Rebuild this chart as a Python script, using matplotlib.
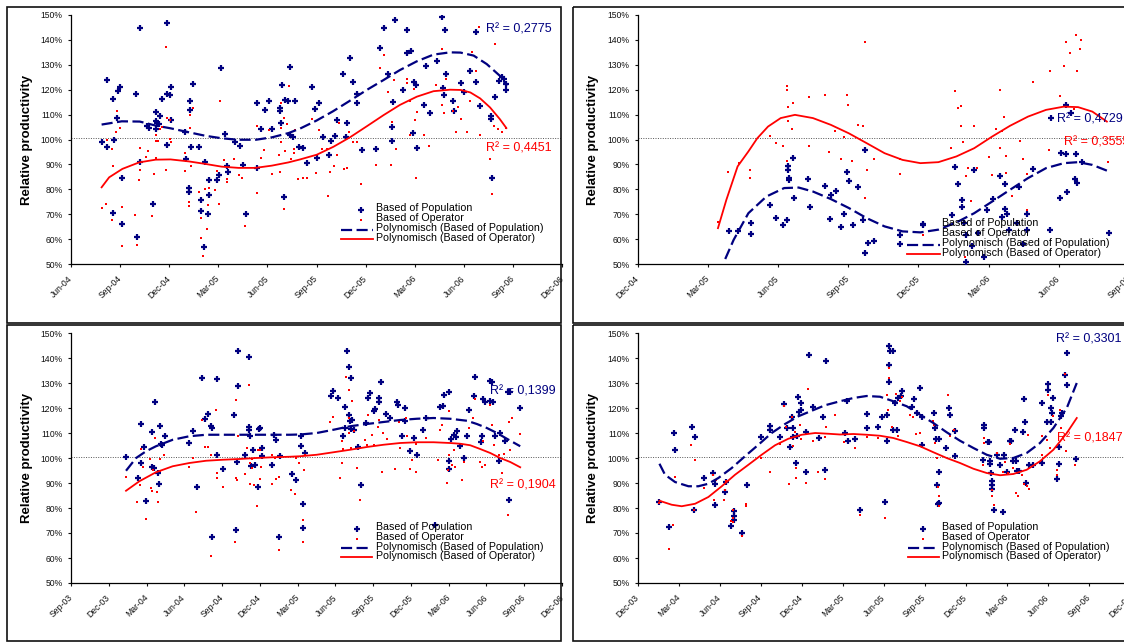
import matplotlib
matplotlib.use('Agg')
import matplotlib.pyplot as plt
from matplotlib.patches import Rectangle

plt.rcParams['font.family'] = ['Liberation Sans', 'DejaVu Sans']

W, H = 1124, 642
NAVY = '#000080'
RED = '#FF0000'

# x = months counted from Sep-03 (0 = Sep-03, 3 = Dec-03, ...), y = relative productivity in %
MONTH_TICKS = list(range(0, 40, 3))
MONTH_LABELS = ['Sep-03', 'Dec-03', 'Mar-04', 'Jun-04', 'Sep-04', 'Dec-04', 'Mar-05',
                'Jun-05', 'Sep-05', 'Dec-05', 'Mar-06', 'Jun-06', 'Sep-06', 'Dec-06']
PCT_TICKS = list(range(50, 151, 10))
LEGEND_LABELS = ['Based of Population', 'Based of Operator',
                 'Polynomisch (Based of Population)', 'Polynomisch (Based of Operator)']

# ---- top left ----
TL_POP = [(10.87, 99.0), (11.17, 96.9), (11.21, 123.8), (11.56, 116.1), (11.6, 99.9), (11.54, 70.5),
          (11.83, 108.8), (11.85, 119.3), (12.0, 120.9), (12.1, 84.4), (12.1, 65.9), (12.98, 118.3),
          (13.06, 60.7), (13.22, 144.6), (13.2, 91.0), (13.67, 105.3), (13.75, 104.8), (14.0, 74.0),
          (14.17, 111.2), (14.2, 107.3), (14.26, 106.8), (14.44, 109.3), (14.2, 104.4), (14.58, 116.1),
          (14.35, 106.2), (14.86, 146.9), (14.86, 118.3), (15.02, 117.9), (15.08, 120.9), (14.86, 97.6),
          (15.1, 107.7), (15.98, 103.1), (16.0, 92.3), (16.18, 80.4), (16.2, 79.1), (16.3, 115.5),
          (16.3, 111.8), (16.34, 96.9), (16.48, 122.3), (16.81, 96.9), (16.97, 75.8), (16.95, 71.4),
          (17.2, 91.0), (17.1, 56.7), (17.38, 70.1), (17.44, 77.7), (17.46, 83.9), (17.9, 83.9),
          (18.05, 85.9), (18.15, 128.7), (18.4, 102.3), (18.55, 89.2), (18.6, 86.8), (19.02, 99.0),
          (19.32, 97.5), (19.49, 89.9), (19.69, 70.0), (20.38, 88.4), (20.38, 114.8), (20.6, 104.4),
          (20.85, 111.8), (21.09, 115.3), (21.31, 104.4), (21.76, 112.5), (21.8, 111.6), (21.88, 121.8),
          (21.84, 106.8), (22.07, 115.9), (22.23, 115.6), (22.37, 129.1), (22.0, 76.8), (22.4, 101.8),
          (22.55, 100.9), (22.7, 115.5), (22.95, 96.9), (23.2, 96.6), (23.45, 90.7), (23.73, 120.9),
          (23.9, 112.1), (24.02, 92.4), (24.18, 114.8), (24.4, 100.9), (24.77, 93.6), (24.87, 99.4),
          (25.12, 101.3), (25.28, 107.7), (25.59, 126.4), (25.79, 101.1), (25.87, 106.5), (26.03, 132.9),
          (26.24, 123.0), (26.48, 114.7), (26.5, 118.1), (26.75, 95.9), (27.66, 96.2), (27.89, 136.6),
          (28.13, 144.6), (28.36, 126.2), (28.6, 105.2), (28.66, 115.2), (28.6, 99.5), (28.82, 148.1),
          (29.3, 119.9), (29.5, 144.0), (29.54, 134.6), (29.78, 135.7), (29.97, 123.0), (30.07, 121.9),
          (29.88, 102.5), (30.13, 96.6), (30.56, 113.7), (30.72, 129.4), (30.92, 110.8), (31.37, 131.4),
          (31.66, 149.1), (31.74, 120.5), (31.82, 118.0), (31.88, 144.0), (31.94, 126.3), (32.33, 115.3),
          (32.43, 111.6), (32.84, 122.6), (33.04, 119.1), (33.39, 127.4), (33.73, 143.2), (33.73, 123.2),
          (34.0, 113.5), (34.65, 109.3), (34.67, 108.1), (34.73, 84.4), (34.93, 117.1), (35.14, 123.4),
          (35.36, 125.0), (35.46, 124.2), (35.59, 122.3), (35.6, 119.9)]
TL_OP = [(10.87, 72.6), (11.13, 74.1), (11.17, 99.8), (11.52, 96.2), (11.58, 89.2), (11.52, 67.8),
         (11.75, 103.1), (11.83, 111.6), (11.99, 104.5), (12.09, 72.8), (12.1, 57.1), (12.94, 69.7),
         (13.06, 57.6), (13.18, 83.7), (13.2, 87.8), (13.22, 96.6), (13.58, 93.1), (13.7, 95.4),
         (13.96, 69.1), (14.1, 86.0), (14.17, 101.8), (14.17, 99.3), (14.31, 99.3), (14.17, 92.6),
         (14.46, 104.1), (14.54, 105.2), (14.8, 137.0), (14.8, 87.9), (14.88, 108.6), (15.02, 108.0),
         (15.04, 100.3), (15.1, 99.1), (15.98, 94.4), (15.98, 87.3), (16.18, 74.8), (16.18, 73.4),
         (16.28, 110.0), (16.3, 104.5), (16.32, 89.2), (16.48, 112.7), (16.81, 79.1), (16.95, 68.3),
         (16.95, 60.4), (17.07, 53.1), (17.17, 80.1), (17.33, 63.9), (17.38, 73.6), (17.42, 80.7),
         (17.77, 79.9), (17.91, 87.2), (18.07, 74.0), (18.09, 115.6), (18.37, 91.8), (18.53, 84.1),
         (18.55, 82.8), (18.98, 92.0), (19.28, 85.9), (19.45, 84.4), (19.63, 65.4), (20.34, 105.3),
         (20.34, 78.4), (20.58, 92.7), (20.8, 95.6), (21.07, 103.8), (21.29, 86.3), (21.72, 93.8),
         (21.78, 87.0), (21.82, 104.5), (21.82, 114.7), (22.35, 121.5), (21.84, 99.0), (22.0, 108.6),
         (22.0, 72.0), (22.08, 95.4), (22.18, 106.4), (22.43, 92.0), (22.65, 96.3), (22.67, 103.7),
         (22.63, 94.4), (22.9, 84.3), (23.18, 84.7), (23.45, 84.5), (23.71, 108.2), (23.98, 86.4),
         (24.16, 103.9), (24.36, 96.2), (24.63, 96.3), (24.73, 77.2), (24.83, 86.8), (25.08, 89.2),
         (25.26, 93.8), (25.36, 106.8), (25.69, 88.0), (25.85, 88.6), (25.97, 103.0), (26.2, 99.0),
         (26.46, 98.9), (26.71, 82.1), (27.66, 89.6), (27.85, 128.6), (28.11, 133.9), (28.34, 118.9),
         (28.56, 89.6), (28.64, 107.0), (28.76, 123.8), (28.87, 96.3), (29.5, 124.3), (29.5, 122.7),
         (29.74, 115.5), (29.74, 101.7), (29.94, 120.1), (30.03, 107.8), (30.07, 84.4), (30.11, 111.1),
         (30.54, 101.7), (30.86, 97.5), (31.29, 122.0), (31.66, 136.2), (31.68, 114.0), (31.76, 110.6),
         (31.92, 124.2), (32.33, 111.3), (32.55, 103.0), (32.63, 113.2), (32.84, 108.1), (33.18, 103.0),
         (33.35, 115.5), (33.49, 135.0), (33.77, 127.5), (33.92, 145.2), (34.0, 101.8), (34.61, 92.3),
         (34.73, 78.1), (34.93, 138.4), (34.87, 105.4), (35.12, 104.1), (35.32, 102.9), (35.59, 104.5)]
TL_POP_FIT = [(10.87, 106.0), (12.1, 107.3), (13.2, 107.2), (14.17, 105.6), (15.08, 104.5), (16.2, 102.9),
              (17.2, 101.5), (18.2, 100.5), (19.2, 99.9), (20.3, 99.9), (21.3, 100.9), (22.3, 102.6),
              (23.0, 104.4), (24.0, 107.6), (25.0, 111.3), (26.05, 115.6), (27.07, 119.9), (28.1, 123.9),
              (29.1, 127.9), (30.13, 131.4), (31.15, 134.1), (32.16, 135.0), (32.8, 134.9), (33.6, 133.7),
              (34.4, 130.3), (35.2, 125.6), (35.63, 121.6)]
TL_OP_FIT = [(10.87, 80.8), (11.33, 84.8), (12.14, 88.2), (13.16, 90.8), (14.17, 91.9), (15.08, 92.0),
             (16.2, 91.2), (17.2, 90.2), (18.2, 89.1), (19.24, 88.6), (20.26, 88.6), (21.27, 89.5),
             (22.28, 90.8), (23.0, 92.0), (24.02, 93.9), (25.04, 97.1), (26.05, 100.9), (27.07, 105.3),
             (28.1, 109.8), (29.1, 113.9), (30.13, 117.2), (31.15, 119.4), (32.16, 120.0), (32.8, 119.9),
             (33.4, 118.9), (34.0, 116.5), (34.6, 112.9), (35.2, 108.2), (35.6, 104.6)]
TL_R2 = ('0,2775', '0,4451')

# ---- top right ----
TR_POP = [(18.89, 63.4), (19.3, 63.1), (19.83, 66.5), (19.83, 62.0), (20.65, 73.7), (20.9, 68.3),
          (21.22, 65.5), (21.4, 67.8), (21.42, 89.2), (21.42, 87.9), (21.45, 84.4), (21.47, 83.7),
          (21.62, 92.6), (21.67, 76.5), (22.29, 84.1), (22.35, 73.0), (22.99, 81.3), (23.22, 68.1),
          (23.25, 77.8), (23.46, 79.2), (23.69, 64.9), (23.8, 70.1), (23.96, 86.8), (24.04, 83.2),
          (24.21, 65.8), (24.43, 81.1), (24.64, 67.8), (24.71, 95.9), (24.71, 54.3), (24.83, 58.4),
          (25.1, 59.4), (26.22, 61.5), (26.22, 58.0), (27.18, 65.9), (28.43, 69.7), (28.58, 88.8),
          (28.69, 82.1), (28.84, 75.7), (28.84, 73.0), (28.95, 66.5), (29.04, 61.5), (29.04, 51.0),
          (29.27, 57.1), (29.38, 87.9), (29.53, 62.5), (29.8, 52.7), (29.93, 71.5), (30.2, 76.0),
          (30.48, 85.5), (30.57, 69.0), (30.68, 82.0), (30.68, 72.0), (30.8, 70.0), (30.88, 63.5),
          (31.22, 66.5), (31.29, 81.0), (31.45, 58.0), (31.65, 70.0), (31.65, 63.5), (31.9, 88.0),
          (32.63, 63.5), (32.67, 108.5), (33.03, 76.5), (33.09, 94.5), (33.29, 94.0), (33.36, 79.0),
          (33.29, 114.0), (33.52, 110.5), (33.74, 94.0), (33.7, 84.0), (33.79, 82.5), (33.97, 91.0),
          (35.12, 62.5)]
TR_OP = [(18.42, 66.7), (18.87, 86.8), (19.33, 90.4), (19.81, 87.8), (19.81, 84.7), (20.65, 101.3),
         (20.89, 98.4), (21.21, 97.4), (21.38, 121.5), (21.38, 120.0), (21.41, 113.1), (21.44, 107.6),
         (21.38, 91.5), (21.65, 114.6), (21.61, 104.1), (22.3, 117.1), (22.33, 97.4), (22.99, 117.7),
         (23.18, 95.1), (23.44, 103.4), (23.68, 92.2), (23.82, 100.9), (23.94, 117.9), (24.0, 113.9),
         (24.17, 91.4), (24.4, 106.0), (24.63, 105.6), (24.71, 139.3), (24.71, 76.4), (24.8, 87.9),
         (25.08, 92.2), (26.19, 92.2), (26.21, 86.3), (28.39, 96.7), (28.56, 119.6), (28.67, 112.8),
         (28.82, 113.3), (28.83, 105.6), (28.9, 99.1), (29.03, 85.3), (29.1, 88.4), (29.0, 53.0),
         (29.24, 75.2), (29.36, 105.3), (29.49, 88.6), (30.03, 92.8), (30.15, 85.7), (30.3, 104.1),
         (30.48, 119.7), (30.55, 103.5), (30.48, 96.7), (30.65, 108.9), (30.72, 93.5), (30.75, 86.5),
         (31.0, 77.5), (31.34, 99.5), (31.45, 92.2), (31.65, 86.0), (31.62, 71.6), (31.88, 123.2),
         (32.58, 95.9), (32.62, 127.5), (33.06, 117.5), (33.23, 129.7), (33.3, 139.3), (33.47, 134.7),
         (33.66, 112.1), (33.75, 142.1), (33.76, 127.4), (33.9, 136.3), (33.93, 140.1), (35.11, 91.0)]
TR_POP_FIT = [(18.74, 52.0), (19.1, 59.7), (19.73, 70.4), (20.5, 77.1), (21.26, 80.5), (21.88, 80.7),
              (22.49, 79.1), (23.25, 76.1), (24.02, 72.5), (24.79, 68.4), (25.55, 65.1), (26.32, 63.1),
              (27.08, 62.7), (27.85, 63.8), (28.62, 66.7), (29.38, 70.4), (30.15, 75.1), (30.91, 79.8),
              (31.68, 84.5), (32.45, 88.5), (33.21, 90.5), (33.82, 90.9), (34.43, 89.8), (35.05, 87.5)]
TR_OP_FIT = [(18.43, 64.4), (18.79, 75.8), (19.27, 89.2), (19.73, 95.2), (20.11, 100.5), (20.57, 105.2),
             (21.11, 108.6), (21.72, 109.9), (22.49, 108.6), (23.25, 105.9), (24.02, 102.5), (24.79, 98.5),
             (25.55, 94.5), (26.32, 91.8), (27.08, 90.5), (27.85, 90.9), (28.62, 93.2), (29.38, 96.5),
             (30.15, 101.2), (30.91, 105.5), (31.68, 109.2), (32.45, 111.9), (33.21, 113.2), (33.82, 113.0),
             (34.43, 111.2), (35.05, 107.2)]
TR_R2 = ('0,4729', '0,3555')

# ---- bottom left ----
BL_POP = [(4.37, 100.5), (5.35, 92.0), (5.56, 97.9), (5.59, 113.6), (5.8, 104.5), (5.96, 82.8),
          (6.46, 110.3), (6.46, 96.4), (6.56, 95.9), (6.7, 122.3), (6.89, 94.1), (6.99, 89.7),
          (7.1, 112.7), (7.12, 105.6), (7.2, 105.2), (7.44, 108.8), (9.38, 105.9), (9.72, 110.7),
          (9.99, 88.4), (10.44, 132.0), (10.65, 115.7), (10.91, 117.6), (11.13, 112.9), (11.18, 111.9),
          (11.21, 68.5), (11.6, 101.3), (11.6, 131.5), (12.1, 95.5), (12.98, 117.3), (13.09, 71.1),
          (13.17, 98.4), (13.25, 142.9), (13.25, 128.8), (13.8, 101.2), (14.12, 112.3), (14.17, 140.3),
          (14.17, 111.1), (14.22, 108.8), (14.3, 96.9), (14.44, 103.3), (14.65, 97.2), (14.89, 88.4),
          (14.94, 111.6), (15.05, 112.0), (15.15, 103.9), (15.15, 100.9), (15.97, 97.1), (16.1, 109.3),
          (16.27, 107.1), (16.5, 68.5), (16.61, 100.8), (17.56, 93.6), (17.88, 91.3), (18.23, 108.8),
          (18.23, 104.9), (18.44, 81.7), (18.44, 71.9), (18.6, 102.1), (20.64, 124.8), (20.85, 126.9),
          (21.17, 124.0), (21.64, 108.7), (21.78, 120.4), (21.78, 112.0), (21.94, 142.7), (22.12, 136.3),
          (22.25, 132.0), (22.12, 117.3), (22.17, 114.7), (22.23, 111.6), (22.33, 115.3), (22.44, 111.3),
          (22.76, 104.3), (23.02, 89.1), (23.63, 123.9), (23.71, 126.0), (23.45, 114.1), (24.03, 118.7),
          (24.16, 119.7), (24.43, 124.0), (24.64, 130.3), (24.43, 122.4), (25.06, 117.5), (25.3, 116.0),
          (25.88, 122.4), (25.96, 121.1), (26.28, 108.9), (26.52, 120.0), (26.54, 114.7), (26.94, 102.7),
          (27.23, 107.9), (27.47, 101.3), (27.92, 111.1), (28.16, 116.0), (28.93, 73.1), (29.3, 120.3),
          (29.51, 120.9), (29.59, 125.3), (30.04, 126.4), (29.99, 98.9), (30.04, 95.7), (30.2, 107.7),
          (30.41, 109.3), (30.57, 108.4), (30.65, 110.7), (30.86, 104.8), (31.23, 99.9), (31.45, 108.7),
          (31.58, 119.3), (31.98, 124.7), (32.11, 132.3), (32.72, 123.5), (32.64, 108.7), (32.58, 106.4),
          (32.9, 122.4), (33.3, 130.9), (33.43, 130.4), (33.25, 122.9), (33.51, 122.3), (33.7, 108.7),
          (34.04, 109.9), (33.96, 98.7), (34.44, 106.9), (34.7, 126.4), (34.89, 126.4), (34.76, 83.3),
          (35.63, 120.0)]
BL_OP = [(4.37, 92.5), (5.27, 82.4), (5.54, 103.7), (5.51, 89.3), (5.75, 96.3), (5.93, 75.7),
         (6.3, 99.7), (6.38, 88.1), (6.46, 86.7), (6.54, 95.3), (6.65, 108.0), (6.83, 86.3),
         (6.94, 82.3), (7.05, 99.7), (7.1, 94.7), (7.39, 101.3), (9.35, 96.3), (9.7, 99.9),
         (9.93, 78.4), (10.38, 115.1), (10.62, 104.5), (10.91, 104.5), (11.15, 60.9), (11.1, 101.3),
         (11.55, 119.1), (11.58, 93.9), (11.6, 91.9), (12.1, 88.3), (13.01, 66.3), (13.14, 123.2),
         (13.14, 92.0), (13.18, 91.1), (13.25, 108.7), (13.8, 93.6), (14.01, 104.0), (14.15, 129.3),
         (14.2, 97.9), (14.25, 89.6), (14.41, 99.7), (14.38, 96.0), (14.57, 89.3), (14.78, 80.7),
         (14.86, 103.2), (15.05, 103.2), (15.07, 96.4), (15.05, 91.5), (15.95, 101.3), (15.95, 89.6),
         (16.21, 100.0), (16.32, 91.5), (16.5, 92.3), (16.53, 63.2), (17.51, 87.2), (17.83, 85.6),
         (17.88, 100.1), (18.09, 97.9), (18.41, 66.4), (18.44, 75.2), (18.52, 95.1), (18.6, 101.3),
         (20.58, 114.4), (20.85, 116.5), (21.38, 92.0), (21.51, 106.7), (21.56, 98.1), (21.64, 103.7),
         (21.88, 132.3), (22.07, 127.3), (22.12, 116.1), (22.12, 110.0), (22.25, 104.0), (22.31, 122.7),
         (22.44, 110.7), (22.7, 96.0), (22.97, 83.2), (23.37, 107.1), (23.5, 105.3), (23.63, 117.1),
         (23.92, 109.1), (24.03, 105.1), (24.37, 112.5), (24.43, 115.3), (24.74, 94.3), (24.77, 110.0),
         (25.09, 107.7), (25.75, 95.7), (26.07, 114.3), (26.15, 104.0), (26.6, 116.0), (26.68, 108.7),
         (26.94, 95.6), (27.07, 99.3), (27.42, 94.4), (27.42, 105.6), (28.21, 107.9), (29.19, 99.3),
         (29.27, 111.3), (29.46, 113.3), (30.0, 118.7), (29.86, 89.9), (29.93, 95.2), (29.99, 101.3),
         (30.25, 97.3), (30.44, 103.3), (30.52, 96.3), (31.05, 91.1), (31.18, 98.4), (31.63, 111.9),
         (31.92, 116.0), (32.08, 123.7), (32.5, 98.4), (32.64, 96.3), (32.72, 106.7), (32.9, 97.1),
         (33.25, 121.1), (33.46, 113.1), (33.56, 105.3), (33.96, 101.1), (34.2, 93.9), (34.41, 101.6),
         (34.68, 77.3), (34.76, 114.4), (34.89, 103.3), (35.05, 116.0), (35.63, 109.6)]
BL_POP_FIT = [(4.37, 94.9), (5.17, 100.0), (5.96, 102.7), (6.75, 104.7), (8.08, 107.3), (9.4, 108.7),
              (10.73, 109.3), (12.05, 109.3), (13.38, 109.3), (14.7, 109.3), (16.03, 109.3), (17.35, 109.3),
              (18.2, 109.4), (19.52, 110.0), (20.85, 111.3), (22.17, 112.7), (23.5, 113.6), (24.82, 114.4),
              (26.15, 115.2), (27.47, 115.7), (28.8, 116.0), (30.1, 115.7), (31.45, 114.9), (32.24, 113.6),
              (33.03, 112.0), (33.83, 110.0), (34.62, 107.7), (35.68, 104.7)]
BL_OP_FIT = [(4.37, 86.9), (5.43, 90.7), (6.75, 94.3), (8.08, 96.7), (9.4, 98.0), (10.73, 98.9),
             (12.05, 99.3), (13.38, 99.6), (14.7, 100.0), (16.03, 100.3), (17.35, 100.5), (18.2, 100.7),
             (19.52, 101.3), (20.85, 102.3), (22.17, 103.3), (23.5, 104.4), (24.82, 105.3), (26.15, 106.0),
             (27.47, 106.3), (28.8, 106.3), (30.1, 106.0), (30.92, 105.7), (31.71, 105.1), (32.5, 103.6),
             (33.3, 102.0), (34.09, 100.0), (34.89, 98.4), (35.68, 96.3)]
BL_R2 = ('0,1399', '0,1904')

# ---- bottom right ----
BR_POP = [(4.59, 82.4), (5.32, 72.4), (5.63, 109.9), (5.76, 103.1), (6.98, 112.5), (7.2, 108.3),
          (7.15, 79.3), (7.88, 91.9), (8.54, 94.0), (8.63, 89.6), (8.66, 81.1), (9.44, 90.3),
          (9.39, 86.4), (9.8, 72.7), (10.02, 78.7), (10.07, 76.9), (10.07, 75.1), (10.61, 70.0),
          (10.98, 89.3), (12.02, 108.3), (12.66, 112.7), (12.66, 111.3), (13.39, 108.5), (13.73, 121.6),
          (13.93, 112.0), (14.12, 104.4), (14.32, 116.4), (14.34, 112.0), (14.39, 108.3), (14.61, 98.0),
          (14.68, 108.7), (14.76, 124.4), (14.83, 118.3), (14.93, 119.2), (14.98, 122.1), (15.29, 110.4),
          (15.34, 94.5), (15.54, 141.1), (15.83, 120.3), (16.27, 108.0), (16.56, 116.5), (16.71, 95.3),
          (16.76, 138.7), (18.29, 122.7), (18.19, 110.0), (18.41, 106.7), (18.9, 107.7), (19.26, 79.2),
          (19.8, 117.5), (19.8, 111.9), (20.6, 112.3), (20.85, 116.3), (21.09, 82.3), (21.26, 117.3),
          (21.24, 106.9), (21.39, 144.8), (21.46, 142.7), (21.65, 142.9), (21.41, 137.3), (21.41, 130.4),
          (21.65, 111.1), (21.95, 111.1), (21.82, 122.0), (22.07, 124.0), (22.31, 126.9), (22.24, 124.9),
          (23.04, 120.3), (23.21, 123.6), (23.41, 118.0), (23.63, 128.0), (23.78, 116.4), (23.78, 105.1),
          (24.68, 118.0), (24.75, 112.0), (24.82, 107.6), (25.07, 107.7), (24.92, 89.3), (25.07, 94.3),
          (24.95, 81.6), (25.04, 82.0), (25.53, 104.0), (25.75, 120.0), (25.85, 117.1), (26.19, 110.7),
          (26.24, 100.7), (28.34, 113.1), (28.34, 112.0), (28.29, 99.3), (28.6, 106.4), (28.7, 106.4),
          (28.78, 98.9), (28.78, 97.7), (28.82, 94.0), (28.9, 90.7), (28.95, 89.3), (28.93, 87.5),
          (29.07, 79.3), (29.26, 101.3), (29.51, 97.3), (29.7, 78.3), (29.82, 101.1), (29.99, 94.3),
          (30.24, 106.7), (30.34, 106.9), (30.43, 98.9), (30.6, 111.3), (30.65, 98.7), (30.73, 94.7),
          (30.92, 94.7), (31.17, 110.3), (31.26, 123.6), (31.34, 114.4), (31.41, 90.0), (31.63, 97.3),
          (31.9, 97.3), (32.56, 98.0), (32.6, 121.9), (32.92, 114.3), (33.04, 129.7), (33.04, 127.2),
          (33.21, 120.0), (33.29, 118.0), (33.24, 114.3), (33.41, 124.0), (33.7, 91.7), (33.8, 97.7),
          (33.85, 104.3), (33.97, 116.7), (34.02, 118.0), (34.26, 133.1), (34.39, 129.3), (34.41, 141.9),
          (35.04, 99.7)]
BR_OP = [(4.59, 81.9), (5.32, 63.6), (5.61, 73.1), (5.73, 92.3), (6.93, 105.3), (7.2, 99.3),
         (7.15, 79.3), (7.88, 88.0), (8.49, 93.1), (8.59, 83.3), (8.71, 91.2), (9.34, 83.3),
         (9.39, 87.3), (9.44, 90.9), (9.8, 74.9), (10.0, 79.3), (10.0, 76.0), (10.0, 74.3),
         (10.61, 68.9), (10.95, 81.7), (10.95, 80.9), (12.0, 100.0), (12.66, 94.4), (13.41, 105.7),
         (13.68, 120.9), (13.83, 112.4), (14.1, 89.5), (14.27, 116.3), (14.34, 104.8), (14.51, 110.3),
         (14.59, 91.9), (14.61, 95.9), (14.88, 113.3), (14.95, 107.6), (15.34, 89.9), (15.49, 127.7),
         (15.85, 106.7), (16.22, 94.3), (16.71, 108.3), (16.71, 91.6), (16.76, 112.3), (17.44, 117.1),
         (18.07, 106.3), (18.9, 104.0), (19.26, 77.1), (19.8, 108.3), (20.6, 107.9), (21.07, 76.0),
         (21.26, 125.3), (21.34, 119.3), (21.41, 136.0), (21.41, 132.0), (21.58, 112.4), (21.9, 125.6),
         (22.07, 108.7), (22.19, 122.7), (22.31, 124.3), (22.92, 117.1), (23.17, 116.3), (23.36, 109.6),
         (23.65, 110.0), (24.63, 114.9), (24.7, 113.1), (24.75, 106.0), (24.87, 100.0), (24.95, 88.4),
         (25.02, 84.7), (25.07, 80.7), (25.68, 125.1), (25.85, 108.7), (26.14, 111.3), (28.34, 108.0),
         (28.36, 106.0), (28.24, 97.3), (28.9, 87.1), (28.9, 84.9), (29.07, 81.3), (29.26, 102.0),
         (29.7, 94.4), (29.87, 98.3), (30.12, 94.0), (30.24, 105.6), (30.48, 96.0), (30.68, 86.0),
         (30.85, 84.9), (31.09, 93.3), (31.26, 89.7), (31.46, 88.9), (31.58, 109.3), (31.63, 87.7),
         (32.56, 108.7), (32.6, 101.3), (32.97, 107.3), (33.04, 125.3), (33.17, 104.0), (33.36, 116.7),
         (33.65, 95.3), (33.7, 93.3), (33.9, 119.3), (33.95, 112.0), (34.29, 133.6), (34.34, 102.7),
         (35.02, 97.1)]
BR_POP_FIT = [(4.59, 97.7), (5.0, 93.3), (5.73, 90.4), (6.71, 88.7), (7.44, 88.7), (8.17, 89.7),
              (8.9, 92.0), (9.88, 96.0), (10.85, 100.7), (11.83, 105.3), (12.8, 110.0), (13.78, 113.6),
              (14.76, 116.7), (15.73, 118.9), (16.71, 121.1), (17.8, 122.7), (18.78, 124.0), (19.75, 124.8),
              (20.73, 124.5), (21.7, 122.7), (22.68, 120.7), (23.65, 117.3), (24.63, 114.0), (25.6, 110.3),
              (26.58, 106.9), (27.56, 104.0), (28.53, 101.3), (29.51, 99.7), (30.48, 100.0), (31.46, 102.0),
              (32.43, 106.0), (33.41, 112.0), (34.39, 120.0), (35.12, 130.0)]
BR_OP_FIT = [(4.59, 82.9), (5.49, 81.3), (6.22, 80.7), (7.2, 81.7), (8.17, 84.4), (9.15, 88.7),
             (10.12, 93.3), (11.1, 97.3), (12.07, 101.3), (13.05, 105.1), (14.02, 107.7), (15.0, 109.3),
             (15.98, 110.0), (16.95, 109.7), (17.8, 109.4), (18.78, 109.6), (19.75, 109.3), (20.73, 108.9),
             (21.7, 108.0), (22.68, 106.4), (23.65, 104.7), (24.63, 102.3), (25.6, 100.0), (26.58, 98.0),
             (27.56, 95.7), (28.53, 94.0), (29.51, 93.1), (30.48, 93.6), (31.46, 95.3), (32.43, 98.7),
             (33.41, 103.3), (34.39, 110.0), (35.12, 116.0)]
BR_R2 = ('0,3301', '0,1847')

REF_LEVEL = 100.5   # dotted reference line


def fig_rect(l, t, r, b):
    return [l / W, 1 - b / H, (r - l) / W, (b - t) / H]


def unzip(pts):
    return [p[0] for p in pts], [p[1] for p in pts]


def draw_panel(ax, pop, op, pop_fit, op_fit, xlim):
    x, y = unzip(pop)
    ax.plot(x, y, ls='none', marker='+', ms=4.3, mew=1.6, color=NAVY, zorder=3)
    x, y = unzip(op)
    ax.plot(x, y, ls='none', marker='s', ms=1.7, mew=0, color=RED, zorder=4)
    x, y = unzip(pop_fit)
    ax.plot(x, y, color=NAVY, lw=1.6, dashes=(5, 2), zorder=5)
    x, y = unzip(op_fit)
    ax.plot(x, y, color=RED, lw=1.3, zorder=5)
    ax.axhline(REF_LEVEL, color='#555555', lw=0.7, ls=(0, (1, 1.5)), zorder=2)

    ax.set_yticks(PCT_TICKS)
    ax.set_yticklabels([f'{v}%' for v in PCT_TICKS])
    ticks = [t for t in MONTH_TICKS if t >= xlim[0]]
    ax.set_xticks(ticks)
    ax.set_xticklabels(MONTH_LABELS[MONTH_TICKS.index(ticks[0]):], rotation=45,
                       ha='right', va='center', rotation_mode='anchor')
    # limits after the ticks, so the tick list does not widen the view
    ax.set_xlim(*xlim)
    ax.set_ylim(50, 150)
    ax.tick_params(axis='both', direction='out', length=2.5, width=0.8,
                   labelsize=6.2, colors='#111111')
    ax.tick_params(axis='y', pad=3.5)
    ax.tick_params(axis='x', pad=7)
    for s in ('top', 'right'):
        ax.spines[s].set_visible(False)
    for s in ('left', 'bottom'):
        ax.spines[s].set_linewidth(0.9)
    ax.patch.set_alpha(0)


def draw_legend(ov, line_x, mark_x, text_x, rows):
    ov.plot([mark_x], [rows[0] + 1.5], ls='none', marker='+', ms=4.3, mew=1.6, color=NAVY)
    ov.plot([mark_x], [rows[1] + 1.5], ls='none', marker='s', ms=1.7, mew=0, color=RED)
    ov.plot(line_x, [rows[2] + 1.5] * 2, color=NAVY, lw=1.6, dashes=(5, 2))
    ov.plot(line_x, [rows[3] + 1.0] * 2, color=RED, lw=1.3)
    for label, yy in zip(LEGEND_LABELS, rows):
        ov.text(text_x, yy, label, fontsize=7.7, va='center', ha='left', color='black')


fig = plt.figure(figsize=(W / 100, H / 100), dpi=100)

panels = [
    # data, axes box in px (l, t, r, b), x range in months
    (TL_POP, TL_OP, TL_POP_FIT, TL_OP_FIT, (71, 15, 562, 264), (9, 39)),
    (TR_POP, TR_OP, TR_POP_FIT, TR_OP_FIT, (637.7, 15, 1199.3, 264), (15, 39)),
    (BL_POP, BL_OP, BL_POP_FIT, BL_OP_FIT, (71, 333, 562, 583), (0, 39)),
    (BR_POP, BR_OP, BR_POP_FIT, BR_OP_FIT, (637.7, 333, 1129.8, 583), (3, 39)),
]
for pop, op, pop_fit, op_fit, box, xlim in panels:
    ax = fig.add_axes(fig_rect(*box))
    draw_panel(ax, pop, op, pop_fit, op_fit, xlim)

# overlay in pixel coordinates: frames, axis titles, R² labels, legends
ov = fig.add_axes([0, 0, 1, 1], zorder=10)
ov.set_xlim(0, W)
ov.set_ylim(H, 0)
ov.axis('off')
ov.patch.set_alpha(0)

for l, t, r, b in [(6.5, 6.7, 561.2, 322.5), (572.5, 6.7, 1300, 322.5),
                   (6.5, 324.5, 561.2, 640.5), (572.5, 324.5, 1300, 640.5)]:
    ov.add_patch(Rectangle((l, t), r - l, b - t, fill=False, ec='#111111', lw=1.2))

for cx, cy in [(27, 140), (593, 140), (27, 458), (593, 458)]:
    ov.text(cx, cy, 'Relative productivity', rotation=90, ha='center', va='center',
            fontsize=9.5, fontweight='bold')

r2_spots = [(TL_R2, (486, 32.3), (486, 151.3)),
            (TR_R2, (1056.7, 122.3), (1064, 145.7)),
            (BL_R2, (490, 394.7), (490, 488.7)),
            (BR_R2, (1056, 343), (1056.7, 441.3))]
for (r_pop, r_op), p_pos, o_pos in r2_spots:
    ov.text(p_pos[0], p_pos[1], f'R² = {r_pop}', color=NAVY, fontsize=9, va='baseline')
    ov.text(o_pos[0], o_pos[1], f'R² = {r_op}', color=RED, fontsize=9, va='baseline')

draw_legend(ov, [341, 373], 361, 376, [208.3, 218.3, 228.3, 238.3])
draw_legend(ov, [906.7, 940], 922.7, 941.7, [223, 233, 243, 252.7])
draw_legend(ov, [341, 372.3], 356.7, 376, [527.3, 537, 546.7, 556.3])
draw_legend(ov, [908.3, 939.3], 923.3, 941.7, [527.3, 537, 546.7, 556.3])

fig.savefig('out.png', dpi=100)
